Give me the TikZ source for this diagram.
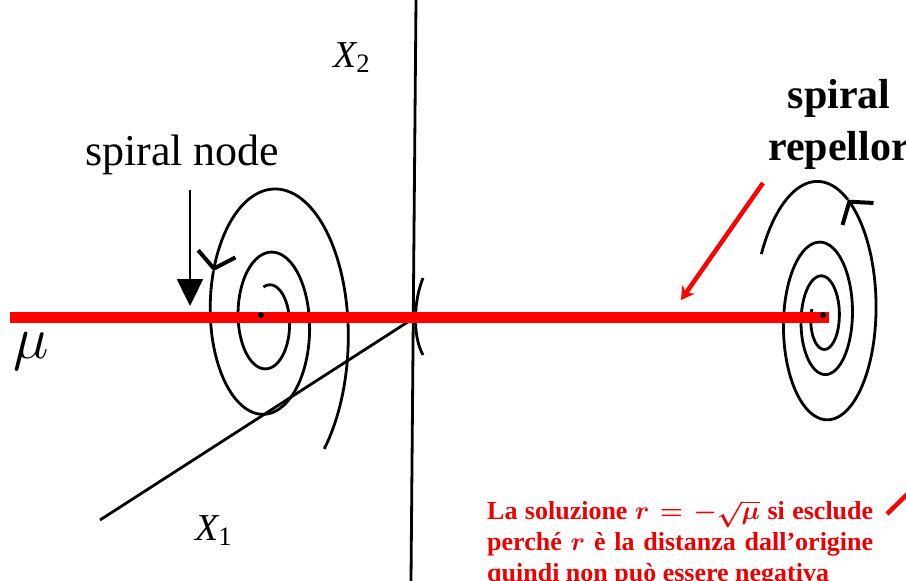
\RequirePackage{fix-cm}
\documentclass[tikz,border=0pt]{standalone}
\usepackage{amsmath}
\usepackage{fontspec}
\setmainfont{Liberation Serif}
\usepackage{tikz}
\usetikzlibrary{positioning,arrows.meta}
\definecolor{BarRed}{RGB}{255,0,0}
\definecolor{NoteRed}{RGB}{238,0,0}
\tikzset{
  axisline/.style={line width=2.8pt,black},
  redbar/.style={line width=11pt,BarRed},
  spiralcurve/.style={line width=2.8pt,black},
  flowtip/.style={-{Straight Barb[length=15pt,width=38pt,line width=4pt]}},
  pointer/.style={line width=4.5pt,BarRed,-{Stealth[length=13pt,width=15pt]}},
  downarrow/.style={line width=2.4pt,black,-{Triangle[length=27pt,width=26pt]}},
  plainlbl/.style={inner sep=0pt,font=\fontsize{44}{48}\selectfont},
  axislbl/.style={inner sep=0pt,font=\fontsize{38}{40}\selectfont\itshape},
  boldlbl/.style={inner sep=0pt,align=center,font=\fontsize{42}{52}\selectfont\bfseries},
  note/.style={inner sep=0pt,text width=386pt,align=justify,text=NoteRed,
    font=\fontsize{26}{31}\selectfont\bfseries},
  centerdot/.style={circle,fill=black,inner sep=0pt,minimum size=6pt}
}

\begin{document}
\begin{tikzpicture}[x=1pt,y=-1pt]

\clip (0,0) rectangle (906,581);

% axes
\coordinate (x2top) at (416,0);
\coordinate (x2bot) at (411,581);
\coordinate (origin) at (414,318);
\coordinate (x1end) at (100,520);
\draw[axisline] (x2top) -- (x2bot);
\draw[axisline] (x1end) -- (origin);
\draw[spiralcurve] (423,278) .. controls (414,300) and (412,335) .. (423,355);

\node[axislbl,anchor=base west] (x2lbl) at (333,67) {X\textsubscript{\upshape 2}};
\node[axislbl,anchor=base west] (x1lbl) at (195,540) {X\textsubscript{\upshape 1}};
\node[inner sep=0pt,anchor=base west] (mulbl) at (13,358) {\fontsize{60}{62}\selectfont$\mu$};

% spiral node (left)
\draw[spiralcurve,flowtip] plot[domain=860:655,samples=80,variable=\t]
  ({268+0.52*35*1.93^(\t/360)*sin(\t)},{320-35*1.93^(\t/360)*cos(\t)});
\draw[spiralcurve] plot[domain=655:-15,samples=200,variable=\t]
  ({268+0.52*35*1.93^(\t/360)*sin(\t)},{320-35*1.93^(\t/360)*cos(\t)});

% spiral repellor (right)
\draw[spiralcurve,flowtip] plot[domain=160:1145,samples=260,variable=\t]
  ({823+0.45*136*1.8^((\t-1170)/360)*cos(\t)},{318-136*1.8^((\t-1170)/360)*sin(\t)});
\draw[spiralcurve] plot[domain=1145:1235,samples=30,variable=\t]
  ({823+0.45*136*1.8^((\t-1170)/360)*cos(\t)},{318-136*1.8^((\t-1170)/360)*sin(\t)});

% the mu line
\coordinate (barL) at (10,317);
\coordinate (barR) at (829,317);
\draw[redbar] (barL) -- (barR);
\node[centerdot] (nodedot) at (261,315) {};
\node[centerdot] (repdot) at (823,315) {};

% labels and pointers
\node[plainlbl,anchor=base west] (nodelbl) at (85,165) {spiral node};
\coordinate (sntail) at (190,190);
\coordinate (sntip) at (190,306);
\draw[downarrow] (sntail) -- (sntip);

\node[boldlbl,anchor=base] (replbl) at (839,160) {spiral\\repellor};
\coordinate (reptail) at (763,183);
\coordinate (rephead) at (681,300);
\draw[pointer] (reptail) -- (rephead);

\node[note,anchor=north west] (note) at (487,500)
  {La soluzione {\boldmath$r=-\sqrt{\mu}$} si esclude\linebreak
   perché {\boldmath$r$} è la distanza dall'origine\linebreak
   quindi non può essere negativa};
\coordinate (stubA) at (887,514);
\coordinate (stubB) at (930,472);
\draw[line width=4.5pt,BarRed] (stubA) -- (stubB);

\end{tikzpicture}
\end{document}
